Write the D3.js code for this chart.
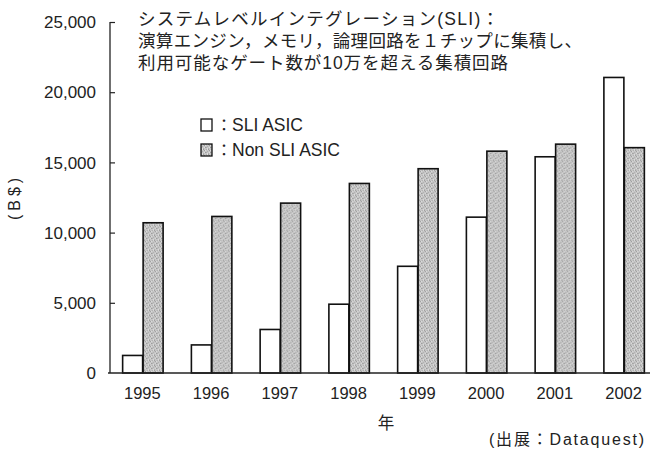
<!DOCTYPE html>
<html>
<head>
<meta charset="utf-8">
<script src="https://cdn.jsdelivr.net/npm/d3@7"></script>
<style>
  html, body { margin: 0; padding: 0; background: #fff; }
  svg { display: block; }
  .lat { font-family: "Liberation Sans", Arial, sans-serif; }
  .jp { font-family: "Noto Sans CJK JP", sans-serif; }
  .mix { font-family: "Liberation Sans", "Noto Sans CJK JP", sans-serif; }
</style>
</head>
<body>
<svg id="chart" width="650" height="449"></svg>
<script>
// Market size by year (B$)
const years = ["1995", "1996", "1997", "1998", "1999", "2000", "2001", "2002"];
const sliAsic = [1250, 2000, 3100, 4900, 7600, 11100, 15400, 21050];
const nonSliAsic = [10700, 11150, 12100, 13500, 14550, 15800, 16300, 16050];
const seriesKeys = ["sli", "nonsli"];
const seriesLabels = ["SLI ASIC", "Non SLI ASIC"];
const yTicks = [0, 5000, 10000, 15000, 20000, 25000];
const titleLines = [
  "システムレベルインテグレーション(SLI)：",
  "演算エンジン，メモリ，論理回路を１チップに集積し、",
  "利用可能なゲート数が10万を超える集積回路"
];
const titleWidths = [361, 444, 370];

const svg = d3.select("#chart");

// halftone-like grey fill
const defs = svg.append("defs");
const pat = defs.append("pattern")
  .attr("id", "grain")
  .attr("patternUnits", "userSpaceOnUse")
  .attr("width", 5).attr("height", 5);
pat.append("rect").attr("width", 5).attr("height", 5).attr("fill", "#c6c6c6");
const darkDots = [[0,0],[3,1],[1,2],[4,3],[2,4],[2,0],[0,3]];
darkDots.forEach(([px, py], i) => {
  pat.append("rect").attr("x", px).attr("y", py).attr("width", 1).attr("height", 1)
    .attr("fill", i % 2 ? "#9a9a9a" : "#aeaeae");
});
[[1,0],[4,1],[3,3],[1,4]].forEach(([px, py]) => {
  pat.append("rect").attr("x", px).attr("y", py).attr("width", 1).attr("height", 1)
    .attr("fill", "#dedede");
});

const x0Left = 108, x0Right = 658, yTop = 22, yBottom = 373;

const x0 = d3.scaleBand().domain(years).range([x0Left, x0Right])
  .paddingInner(0.404).paddingOuter(0.202);
const x1 = d3.scaleBand().domain(seriesKeys).range([0, x0.bandwidth()]);
const y = d3.scaleLinear().domain([0, 25000]).range([yBottom, yTop]);

const rows = years.map((yr, i) => ({ year: yr, sli: sliAsic[i], nonsli: nonSliAsic[i] }));
const fills = { sli: "#ffffff", nonsli: "url(#grain)" };

// bars
const groups = svg.append("g").selectAll("g").data(rows).join("g")
  .attr("transform", d => `translate(${x0(d.year)},0)`);
groups.selectAll("rect")
  .data(d => seriesKeys.map(k => ({ key: k, value: d[k] })))
  .join("rect")
  .attr("x", d => x1(d.key) + 0.75)
  .attr("width", x1.bandwidth() - 0.5)
  .attr("y", d => y(d.value))
  .attr("height", d => y(0) - y(d.value))
  .attr("fill", d => fills[d.key])
  .attr("stroke", "#111")
  .attr("stroke-width", 1.6);

// y axis with inward ticks
const yAxis = d3.axisRight(y).tickValues(yTicks).tickSize(5).tickFormat("");
const yg = svg.append("g").attr("transform", `translate(${x0Left + 2},0)`).call(yAxis);
yg.select(".domain").remove();
yg.selectAll(".tick line").attr("stroke", "#222").attr("stroke-width", 1.2);
yg.selectAll(".tick").filter(d => d === 0).remove();
svg.append("line")
  .attr("x1", x0Left + 2).attr("x2", x0Left + 2)
  .attr("y1", y(25000)).attr("y2", y(0))
  .attr("stroke", "#222").attr("stroke-width", 1.3);

svg.append("g").selectAll("text").data(yTicks).join("text")
  .attr("class", "lat")
  .attr("x", 96).attr("y", d => y(d))
  .attr("dy", "0.36em")
  .attr("text-anchor", "end")
  .attr("font-size", 17)
  .attr("fill", "#222")
  .text(d => d3.format(",")(d));

// baseline
svg.append("line")
  .attr("x1", x0Left).attr("x2", 650)
  .attr("y1", y(0)).attr("y2", y(0))
  .attr("stroke", "#222").attr("stroke-width", 1.6);

// x labels
svg.append("g").selectAll("text").data(years).join("text")
  .attr("class", "lat")
  .attr("x", d => x0(d) + x0.bandwidth() / 2)
  .attr("y", 399)
  .attr("text-anchor", "middle")
  .attr("font-size", 16.5)
  .attr("fill", "#222")
  .text(d => d);

svg.append("text").attr("class", "jp")
  .attr("x", 386).attr("y", 429)
  .attr("text-anchor", "middle")
  .attr("font-size", 16.5).attr("fill", "#222")
  .text("年");

svg.append("text").attr("class", "mix")
  .attr("x", 489).attr("y", 445)
  .attr("textLength", 155).attr("lengthAdjust", "spacing")
  .attr("font-size", 16).attr("fill", "#222")
  .text("(出展：Dataquest)");

// y axis title
svg.append("text").attr("class", "lat")
  .attr("transform", "translate(20,197) rotate(-90)")
  .attr("text-anchor", "middle")
  .attr("font-size", 16).attr("letter-spacing", 4).attr("fill", "#222")
  .text("(B$)");

// heading, one text block with three lines
const heading = svg.append("text").attr("class", "mix")
  .attr("font-size", 17.5)
  .attr("fill", "#222");
heading.selectAll("tspan").data(titleLines).join("tspan")
  .attr("x", 138)
  .attr("y", (d, i) => 25 + i * 22)
  .attr("textLength", (d, i) => titleWidths[i])
  .attr("lengthAdjust", "spacing")
  .text(d => d);

// legend
const legend = svg.append("g").selectAll("g").data(seriesKeys).join("g")
  .attr("transform", (d, i) => `translate(201,${119 + i * 25})`);
legend.append("rect")
  .attr("width", 11).attr("height", 12)
  .attr("fill", d => fills[d])
  .attr("stroke", "#111").attr("stroke-width", 1.3);
legend.append("text").attr("class", "jp")
  .attr("x", 15).attr("y", 6).attr("dy", "0.36em")
  .attr("font-size", 16).attr("fill", "#222")
  .text("：");
legend.append("text").attr("class", "lat")
  .attr("x", 31).attr("y", 6).attr("dy", "0.36em")
  .attr("font-size", 17.5).attr("fill", "#222")
  .text((d, i) => seriesLabels[i]);
</script>
</body>
</html>
